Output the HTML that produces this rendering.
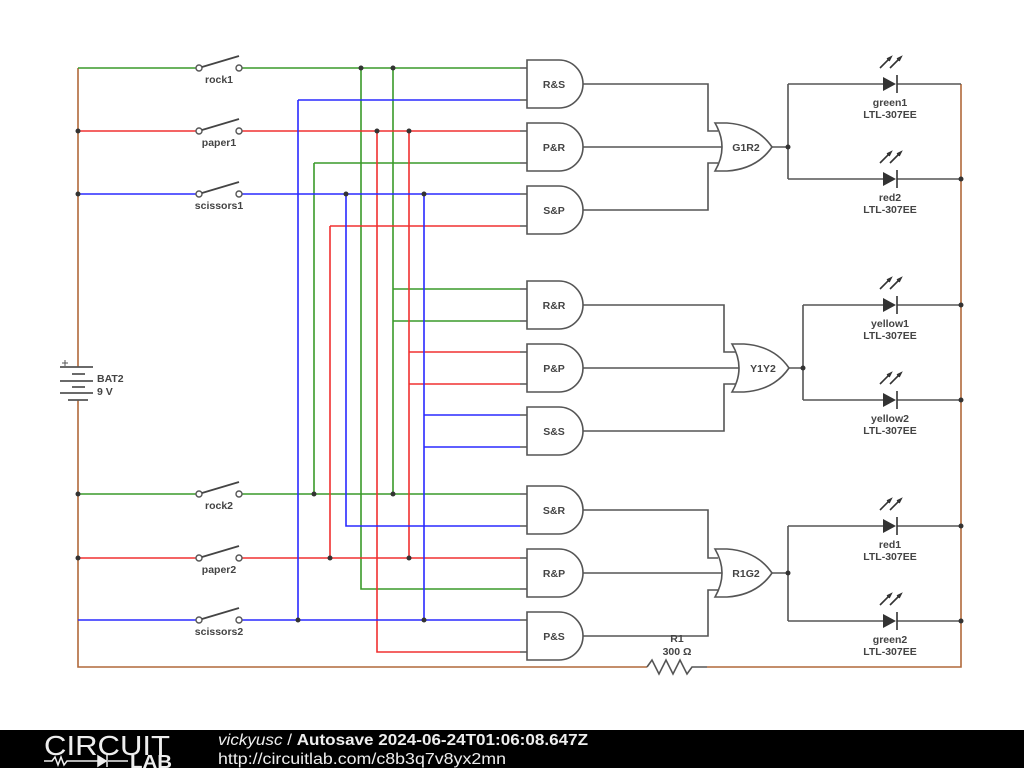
<!DOCTYPE html>
<html><head><meta charset="utf-8"><style>
html,body{margin:0;padding:0;background:#fff;}
svg{display:block}
text{font-family:"Liberation Sans",sans-serif;font-weight:bold;font-size:10.5px;fill:#444;}
</style></head><body>
<svg width="1024" height="768" viewBox="0 0 1024 768" xmlns="http://www.w3.org/2000/svg">
<defs>
<path id="and" d="M0,-24 H32 A24,24 0 0 1 32,24 H0 Z" fill="#fff" stroke="#555" stroke-width="1.6"/>
<path id="or" d="M0,-24 L12,-24 Q42,-22 57,0 Q42,22 12,24 L0,24 Q14,0 0,-24 Z" fill="#fff" stroke="#555" stroke-width="1.6"/>
<g id="led">
<path d="M-7,-7 L6,0 L-7,7 Z" fill="#333"/>
<line x1="7" y1="-9" x2="7" y2="9" stroke="#333" stroke-width="1.6"/>
<path d="M-10,-16 L1,-27 M-3,-25 L1,-27 L-1,-23 M0,-16 L11,-27 M7,-25 L11,-27 L9,-23" stroke="#333" stroke-width="1.6" fill="none"/>
</g>
<g id="sw">
<circle cx="0" cy="0" r="3" fill="#fff" stroke="#555" stroke-width="1.4"/>
<circle cx="40" cy="0" r="3" fill="#fff" stroke="#555" stroke-width="1.4"/>
<line x1="3" y1="-1" x2="40" y2="-12" stroke="#444" stroke-width="1.8"/>
</g>
</defs>
<g fill="none" stroke-width="1.6">
<path d="M78,68 V367 M78,400 V667 H647 M707,667 H961 V84" stroke="#b0693a"/>
<path d="M647,667 l5,-7 l7,14 l7,-14 l7,14 l7,-14 l7,14 l5,-7 H707" stroke="#555"/>
<g stroke="#3a9a2a">
<path d="M78,68 H196 M242,68 H520"/>
<path d="M314,163 H520 M314,163 V494"/>
<path d="M361,68 V589 H520"/>
<path d="M393,68 V494 M393,289 H520 M393,321 H520"/>
<path d="M78,494 H196 M242,494 H520"/>
</g>
<g stroke="#f03030">
<path d="M78,131 H196 M242,131 H520"/>
<path d="M330,226 H520 M330,226 V558"/>
<path d="M377,131 V652 H520"/>
<path d="M409,131 V558 M409,352 H520 M409,384 H520"/>
<path d="M78,558 H196 M242,558 H520"/>
</g>
<g stroke="#2a2aff">
<path d="M78,194 H196 M242,194 H520"/>
<path d="M298,100 H520 M298,100 V620"/>
<path d="M346,194 V526 H520"/>
<path d="M424,194 V620 M424,415 H520 M424,447 H520"/>
<path d="M78,620 H196 M242,620 H520"/>
</g>
<g stroke="#555">
<path d="M520,68H527 M520,100H527 M520,131H527 M520,163H527 M520,194H527 M520,226H527 M520,289H527 M520,321H527 M520,352H527 M520,384H527 M520,415H527 M520,447H527 M520,494H527 M520,526H527 M520,558H527 M520,589H527 M520,620H527 M520,652H527"/>
<path d="M583,84 H708 V131 H718 M583,147 H722 M583,210 H708 V163 H718"/>
<path d="M583,305 H724 V352 H737 M583,368 H740 M583,431 H724 V384 H737"/>
<path d="M583,510 H708 V558 H718 M583,573 H722 M583,636 H708 V590 H718"/>
<path d="M772,147 H788 M788,84 V179 M788,84 H883 M897,84 H961 M788,179 H883 M897,179 H961"/>
<path d="M788,368 H803 M803,305 V400 M803,305 H883 M897,305 H961 M803,400 H883 M897,400 H961"/>
<path d="M772,573 H788 M788,526 V621 M788,526 H883 M897,526 H961 M788,621 H883 M897,621 H961"/>
<path d="M60,367 H93 M72,374 H85 M60,381 H93 M72,387 H85 M60,393 H93 M68,400 H88" stroke-width="1.8"/>
<path d="M62,363 h6 M65,360 v6" stroke-width="1"/>
</g>
</g>
<g fill="#333">
<circle cx="361" cy="68" r="2.5"/><circle cx="393" cy="68" r="2.5"/>
<circle cx="377" cy="131" r="2.5"/><circle cx="409" cy="131" r="2.5"/>
<circle cx="346" cy="194" r="2.5"/><circle cx="424" cy="194" r="2.5"/>
<circle cx="314" cy="494" r="2.5"/><circle cx="393" cy="494" r="2.5"/>
<circle cx="330" cy="558" r="2.5"/><circle cx="409" cy="558" r="2.5"/>
<circle cx="298" cy="620" r="2.5"/><circle cx="424" cy="620" r="2.5"/>
<circle cx="78" cy="131" r="2.5"/><circle cx="78" cy="194" r="2.5"/>
<circle cx="78" cy="494" r="2.5"/><circle cx="78" cy="558" r="2.5"/>
<circle cx="788" cy="147" r="2.5"/><circle cx="803" cy="368" r="2.5"/><circle cx="788" cy="573" r="2.5"/>
<circle cx="961" cy="179" r="2.5"/><circle cx="961" cy="305" r="2.5"/><circle cx="961" cy="400" r="2.5"/>
<circle cx="961" cy="526" r="2.5"/><circle cx="961" cy="621" r="2.5"/>
</g>
<use href="#sw" x="199" y="68"/><use href="#sw" x="199" y="131"/><use href="#sw" x="199" y="194"/>
<use href="#sw" x="199" y="494"/><use href="#sw" x="199" y="558"/><use href="#sw" x="199" y="620"/>
<g text-anchor="middle">
<text x="219" y="83">rock1</text><text x="219" y="146">paper1</text><text x="219" y="209">scissors1</text>
<text x="219" y="509">rock2</text><text x="219" y="573">paper2</text><text x="219" y="635">scissors2</text>
</g>
<use href="#and" x="527" y="84"/><use href="#and" x="527" y="147"/><use href="#and" x="527" y="210"/>
<use href="#and" x="527" y="305"/><use href="#and" x="527" y="368"/><use href="#and" x="527" y="431"/>
<use href="#and" x="527" y="510"/><use href="#and" x="527" y="573"/><use href="#and" x="527" y="636"/>
<g text-anchor="middle">
<text x="554" y="88">R&amp;S</text><text x="554" y="151">P&amp;R</text><text x="554" y="214">S&amp;P</text>
<text x="554" y="309">R&amp;R</text><text x="554" y="372">P&amp;P</text><text x="554" y="435">S&amp;S</text>
<text x="554" y="514">S&amp;R</text><text x="554" y="577">R&amp;P</text><text x="554" y="640">P&amp;S</text>
</g>
<use href="#or" x="715" y="147"/><use href="#or" x="732" y="368"/><use href="#or" x="715" y="573"/>
<g text-anchor="middle">
<text x="746" y="151">G1R2</text><text x="763" y="372">Y1Y2</text><text x="746" y="577">R1G2</text>
</g>
<use href="#led" x="890" y="84"/><use href="#led" x="890" y="179"/>
<use href="#led" x="890" y="305"/><use href="#led" x="890" y="400"/>
<use href="#led" x="890" y="526"/><use href="#led" x="890" y="621"/>
<g text-anchor="middle">
<text x="890" y="106">green1</text><text x="890" y="118">LTL-307EE</text>
<text x="890" y="201">red2</text><text x="890" y="213">LTL-307EE</text>
<text x="890" y="327">yellow1</text><text x="890" y="339">LTL-307EE</text>
<text x="890" y="422">yellow2</text><text x="890" y="434">LTL-307EE</text>
<text x="890" y="548">red1</text><text x="890" y="560">LTL-307EE</text>
<text x="890" y="643">green2</text><text x="890" y="655">LTL-307EE</text>
<text x="677" y="642">R1</text><text x="677" y="655">300 Ω</text>
</g>
<text x="97" y="382">BAT2</text><text x="97" y="395">9 V</text>
<rect x="0" y="730" width="1024" height="38" fill="#000"/>
<text x="44" y="755" textLength="126" lengthAdjust="spacingAndGlyphs" style="font-weight:normal;font-size:28px;fill:#eee">CIRCUIT</text>
<path d="M44,761 H52 l3,-4 l3,8 l3,-8 l3,8 l3,-4 H98 M108,761 H128" stroke="#eee" stroke-width="1.5" fill="none"/>
<path d="M98,756 L106,761 L98,766 Z M107,755 V767" fill="#eee" stroke="#eee" stroke-width="1.5"/>
<text x="130" y="768" textLength="42" lengthAdjust="spacingAndGlyphs" style="font-size:18px;fill:#eee">LAB</text>
<text x="218" y="745" textLength="370" lengthAdjust="spacingAndGlyphs" style="font-size:16px;fill:#eee"><tspan style="font-style:italic;font-weight:normal;fill:#eee">vickyusc</tspan><tspan style="font-weight:normal;fill:#eee"> / </tspan>Autosave 2024-06-24T01:06:08.647Z</text>
<text x="218" y="764" textLength="288" lengthAdjust="spacingAndGlyphs" style="font-size:16px;font-weight:normal;fill:#eee">http://circuitlab.com/c8b3q7v8yx2mn</text>
</svg>
</body></html>
